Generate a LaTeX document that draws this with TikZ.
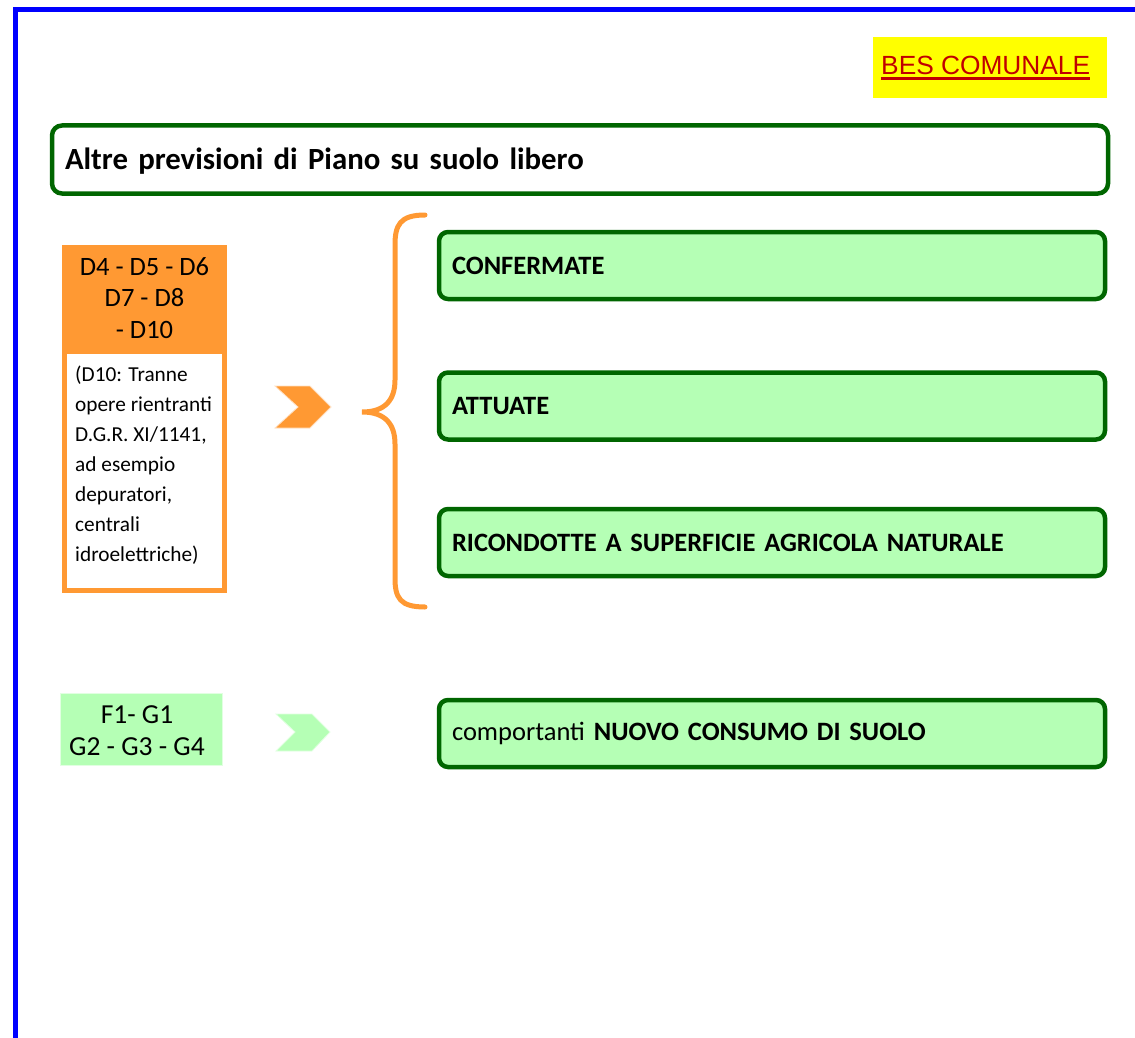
\documentclass[tikz,border=0pt]{standalone}
\usepackage{fontspec}
\setmainfont{Carlito}
\newfontfamily\arialf{Liberation Sans}
\definecolor{bgreen}{RGB}{0,102,0}
\definecolor{lgreen}{RGB}{181,255,181}
\definecolor{fgreen}{RGB}{225,255,225}
\definecolor{orng}{RGB}{255,153,51}
\definecolor{bred}{RGB}{192,0,0}
\definecolor{byellow}{RGB}{255,255,0}
\tikzset{
  gbox/.style={draw=bgreen, line width=4.5pt, fill=lgreen, rounded corners=9pt,
    text width=640pt, inner xsep=13pt, minimum height=67pt, align=left, outer sep=0pt,
    font=\fontsize{26.5}{30}\selectfont},
  chev/.style={line width=0.8pt},
}
\begin{document}
\begin{tikzpicture}[x=1pt,y=-1pt]
\useasboundingbox (0,0) rectangle (1135,1038);
% blue frame
\draw[blue, line width=5pt] (15.5,1045) -- (15.5,9.5) -- (1145,9.5);

% BES COMUNALE
\node[fill=byellow, minimum width=234pt, minimum height=61pt, anchor=north west, inner sep=0pt, outer sep=0pt] (besbox) at (873,37) {};
\node[font=\arialf\fontsize{26.3}{30}\selectfont, text=bred, inner sep=0pt, anchor=base west] (bes) at (881,75) {BES COMUNALE};
\draw[bred, line width=2.5pt] ([yshift=-3.5pt]bes.base west) -- ([yshift=-3.5pt]bes.base east);

% title box
\node[draw=bgreen, line width=4.5pt, fill=white, rounded corners=10pt, anchor=north west, outer sep=0pt,
  minimum width=1054pt, minimum height=68pt, text width=1030pt, inner xsep=13pt, align=left,
  text height=24pt, text depth=4pt,
  font=\bfseries\fontsize{30.8}{34}\selectfont] (title) at (52,125.5) {Altre previsioni di Piano su suolo libero};

% orange box
\node[fill=orng, anchor=north west, minimum width=165pt, minimum height=106pt, inner sep=0pt, outer sep=0pt] (dhead) at (62,245) {};
\node[align=center, font=\fontsize{26.5}{31.5}\selectfont, anchor=center] (dtext) at (dhead.center) {D4 - D5 - D6\\D7 - D8\\- D10};
\node[draw=orng, line width=5pt, fill=white, anchor=north west, minimum width=160pt, minimum height=239pt, inner sep=0pt, outer sep=0pt] (dbody) at (64.5,351.5) {};
\node[align=left, font=\fontsize{21.3}{30}\selectfont, anchor=north west, inner sep=0pt] (dnote) at (75,366)
  {(D10: Tranne\\opere rientranti\\D.G.R. XI/1141,\\ad esempio\\depuratori,\\centrali\\idroelettriche)};

% orange chevron
\filldraw[fill=orng, draw=orng!30, chev] (275,386) -- (310,386) -- (331,407) -- (310,428) -- (275,428) -- (298,407) -- cycle;

% brace
\draw[orng, line width=5pt, line cap=round] (425,215) .. controls (400,215) and (395,225) .. (395,245)
  -- (395,380) .. controls (395,400) and (385,412) .. (362,412)
  .. controls (385,412) and (395,424) .. (395,444)
  -- (395,578) .. controls (395,598) and (400,607) .. (425,607);

% green boxes
\node[gbox, font=\bfseries\fontsize{26.5}{30}\selectfont] (conf) at (772,265.5) {CONFERMATE};
\node[gbox, font=\bfseries\fontsize{26.5}{30}\selectfont] (attu) at (772,406) {ATTUATE};
\node[gbox, font=\bfseries\fontsize{26.5}{30}\selectfont] (ric) at (772,542.5) {RICONDOTTE A SUPERFICIE AGRICOLA NATURALE};
\node[gbox] (nuovo) at (772,733.5) {comportanti \textbf{NUOVO CONSUMO DI SUOLO}};

% F/G box
\node[fill=lgreen, draw=fgreen, line width=1pt, minimum width=162pt, minimum height=72pt, anchor=north west, inner sep=0pt, outer sep=0pt] (fgbox) at (60,693) {};
\node[align=center, font=\fontsize{27.5}{32}\selectfont] (fgtext) at ([xshift=-4pt,yshift=-2pt]fgbox.center) {F1- G1\\G2 - G3 - G4};

% green chevron
\filldraw[fill=lgreen, draw=fgreen, chev] (276,714) -- (312,714) -- (330,732) -- (312,751) -- (276,751) -- (295,732) -- cycle;
\end{tikzpicture}
\end{document}
